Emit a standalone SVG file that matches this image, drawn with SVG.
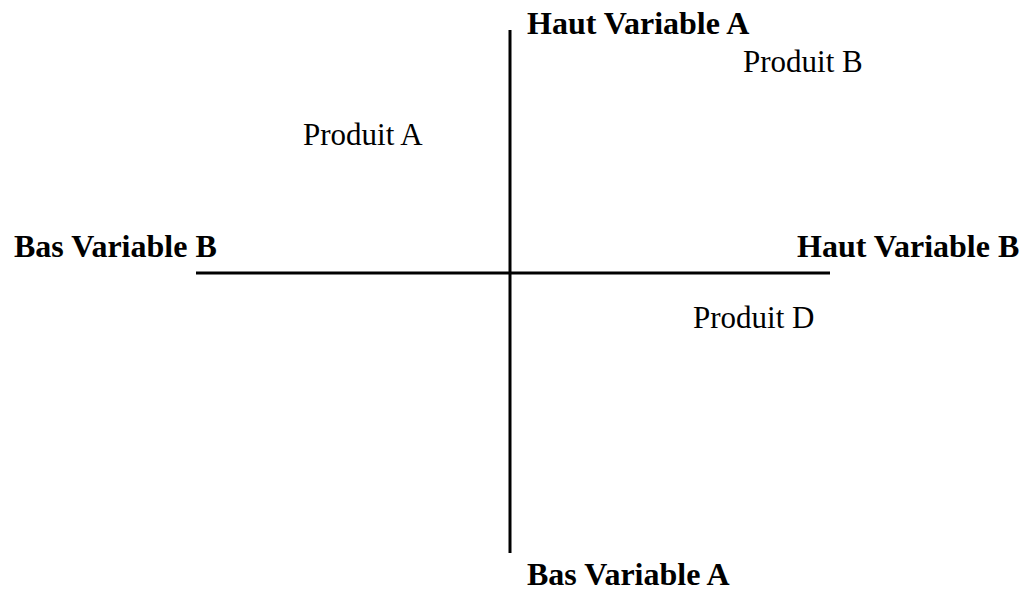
<svg xmlns="http://www.w3.org/2000/svg" width="1035" height="591" viewBox="0 0 1035 591">
  <style>
    .axis { stroke: #000; stroke-width: 3; fill: none; }
    .pole { font-family: "Liberation Serif", "Times New Roman", serif; font-weight: bold; font-size: 32px; fill: #000; }
    .item { font-family: "Liberation Serif", "Times New Roman", serif; font-size: 31px; fill: #000; }
  </style>
  <rect width="1035" height="591" fill="#fff"/>
  <!-- axes of the positioning map -->
  <g id="connectors">
    <line class="axis" x1="510" y1="30" x2="510" y2="553"/>
    <line class="axis" x1="196" y1="273" x2="830" y2="273"/>
  </g>
  <!-- axis end labels -->
  <g id="haut-variable-a"><text class="pole" x="527" y="34">Haut Variable A</text></g>
  <g id="bas-variable-a"><text class="pole" x="527" y="585">Bas Variable A</text></g>
  <g id="bas-variable-b"><text class="pole" x="14" y="257">Bas Variable B</text></g>
  <g id="haut-variable-b"><text class="pole" x="797" y="257">Haut Variable B</text></g>
  <!-- products placed on the map -->
  <g id="produit-a"><text class="item" x="303" y="145">Produit A</text></g>
  <g id="produit-b"><text class="item" x="743" y="72">Produit B</text></g>
  <g id="produit-d"><text class="item" x="693" y="328">Produit D</text></g>
</svg>
